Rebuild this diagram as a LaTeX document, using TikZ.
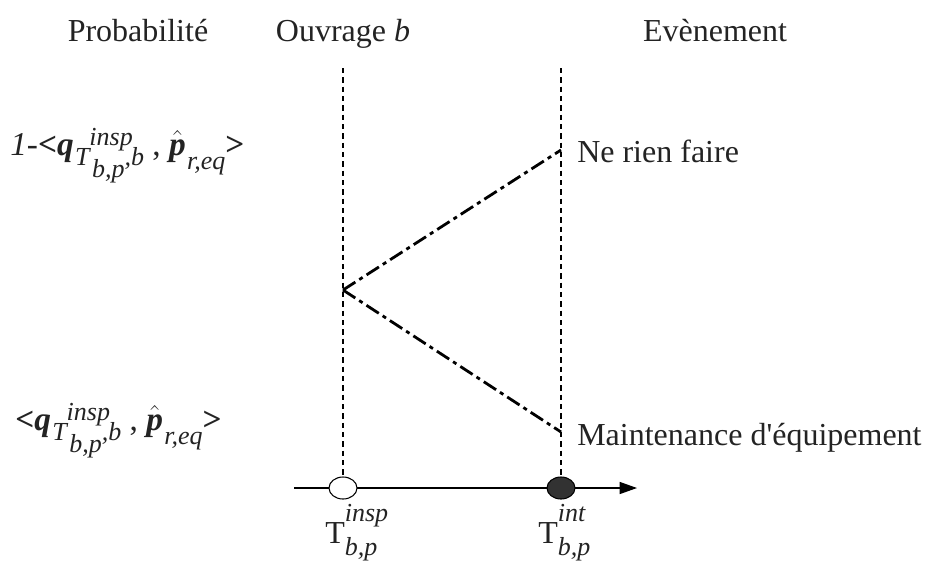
\documentclass[tikz,border=0pt]{standalone}
\usepackage{fontspec}
\setmainfont{Liberation Serif}
\usetikzlibrary{arrows.meta,positioning,shapes.geometric}
\definecolor{EventGray}{RGB}{50,50,50}
\definecolor{InkGray}{RGB}{35,35,35}
% small italic parts of the formulas
\newcommand{\smallit}[1]{{\fontsize{19.5}{21}\selectfont\itshape #1}}
\newcommand{\qterm}{\textbf{\textit{q}}\kern1pt%
  \raisebox{-8pt}{\smallit{T}}%
  \makebox[0pt][l]{\raisebox{7pt}{\smallit{insp}}}%
  \kern2pt\raisebox{-17pt}{\smallit{b,p}}%
  \raisebox{-8pt}{\smallit{,b}}}
\newcommand{\pterm}{$\hat{\textbf{\textit{p}}}$\kern1pt\raisebox{-11pt}{\smallit{r,eq}}}
\newcommand{\instlabel}[1]{T\makebox[0pt][l]{\raisebox{16pt}{\smallit{#1}}}%
  \raisebox{-9pt}{\smallit{b,p}}}
\tikzset{
  heading/.style={font=\fontsize{24}{28}\selectfont,text=InkGray,inner sep=0pt},
  formula/.style={font=\fontsize{24}{28}\selectfont,text=InkGray,inner sep=0pt,
    anchor=base west},
  guide/.style={line width=0.8pt,dash pattern=on 4pt off 3pt},
  branch/.style={line width=2.1pt,dash pattern=on 11pt off 3.5pt on 3pt off 3.5pt},
  axis/.style={line width=0.9pt,-{Triangle[length=13pt,width=9pt]}},
  instant/.style={draw,ellipse,line width=0.8pt,minimum width=21pt,
    minimum height=16.5pt,inner sep=0pt}
}

\begin{document}
\begin{tikzpicture}[x=0.75pt,y=-0.75pt]
  \useasboundingbox (0,0) rectangle (930,565);

  % column headings
  \node[heading,anchor=base] (prob) at (138,41) {Probabilité};
  \node[heading,anchor=base] (ouvr) at (343,41) {Ouvrage \textit{b}};
  \node[heading,anchor=base] (even) at (715,41) {Evènement};

  % time axis
  \coordinate (axisL) at (294,488);
  \coordinate (axisR) at (637,488);
  \draw[axis] (axisL) -- (axisR);
  \node[instant,fill=white] (tinsp) at (343,488) {};
  \node[instant,fill=EventGray] (tint) at (561,488) {};

  % vertical guides
  \coordinate (topA) at (343,68);
  \coordinate (topB) at (561,68);
  \draw[guide] (topA) -- (tinsp.north);
  \draw[guide] (topB) -- (tint.north);

  % event branches
  \coordinate (fork) at (343,290);
  \coordinate (endUp) at (561,150);
  \coordinate (endDown) at (561,432);
  \draw[branch] (fork) -- (endUp);
  \draw[branch] (fork) -- (endDown);

  \node[formula] (rien) at (577,162) {Ne rien faire};
  \node[formula] (maint) at (577,445) {Maintenance d\textquotesingle équipement};

  % probabilities
  \node[formula,font=\fontsize{25}{28}\selectfont] (pnone) at (10,155)
    {\textit{1-}\textbf{<}\qterm\ , \pterm\textbf{>}};
  \node[formula,font=\fontsize{25}{28}\selectfont] (pmaint) at (15,430)
    {\textbf{<}\qterm\ , \pterm\textbf{>}};

  % instants
  \node[formula] (linsp) at (325,543) {\instlabel{insp}};
  \node[formula] (lint) at (538,543) {\instlabel{int}};
\end{tikzpicture}
\end{document}
